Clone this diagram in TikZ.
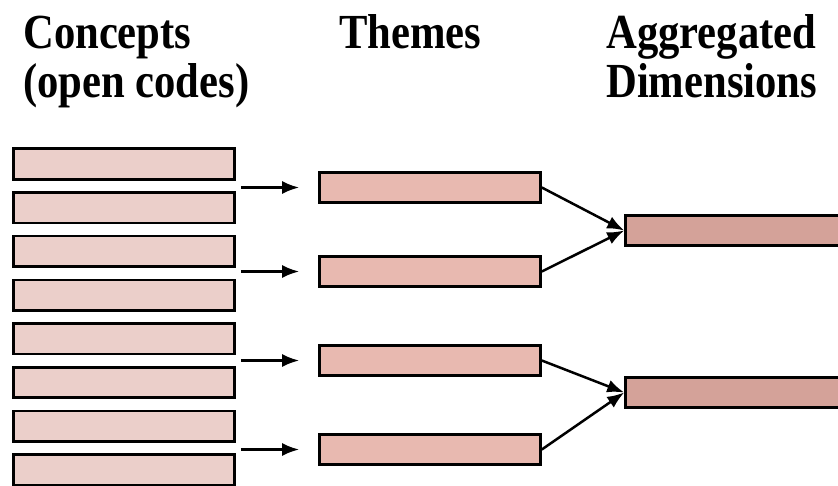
\documentclass[tikz,border=0pt]{standalone}
\usepackage{fontspec}
\setmainfont[FakeStretch=0.87]{Liberation Serif}
\usepackage{tikz}
\usetikzlibrary{graphs, arrows.meta}

\definecolor{conceptfill}{RGB}{235,207,202}
\definecolor{themefill}{RGB}{232,185,176}
\definecolor{dimfill}{RGB}{212,162,153}

\tikzset{
    codebox/.style={draw=black, line width=2.6pt, minimum width=221pt, minimum height=30.5pt, inner sep=0pt},
    concept/.style={codebox, fill=conceptfill},
    theme/.style={codebox, fill=themefill},
    dimension/.style={codebox, fill=dimfill},
    heading/.style={anchor=base west, inner sep=0pt, align=left, font=\bfseries\fontsize{49}{49}\selectfont},
}

\begin{document}
\begin{tikzpicture}[
                    x=1pt,
                    y=-1pt,
                    >={Latex[length=17pt,width=13pt]},
                    line width=2.5pt,
                ]
                \clip (0,0) rectangle (838,485);

                % headings (base anchor sits on the last line)
                \node[heading] (hconcepts) at (22,97) {Concepts\\(open codes)};
                \node[heading] (hthemes) at (338,48) {Themes};
                \node[heading] (hdims) at (605,97) {Aggregated\\Dimensions};

                \foreach \i in {1,...,8}
                    \node[concept] (c\i) at (124,{164+43.7*(\i-1)}) {};

                \node[theme] (t1) at (430,187.5) {};
                \node[theme] (t2) at (430,271.5) {};
                \node[theme] (t3) at (430,360.5) {};
                \node[theme] (t4) at (430,449.5) {};

                \node[dimension] (a1) at (736,230.5) {};
                \node[dimension] (a2) at (736,392.5) {};

                \foreach \t/\c in {1/1,2/3,3/5,4/7}
                    \draw[->, shorten <=5pt, shorten >=19pt] (t\t.west -| c\c.east) -- (t\t.west);

                \graph[use existing nodes]{
                    t1.east -> a1.west ;
                    t2.east -> a1.west ;
                    t3.east -> a2.west ;
                    t4.east -> a2.west ;
                } ;
            \end{tikzpicture}
\end{document}
